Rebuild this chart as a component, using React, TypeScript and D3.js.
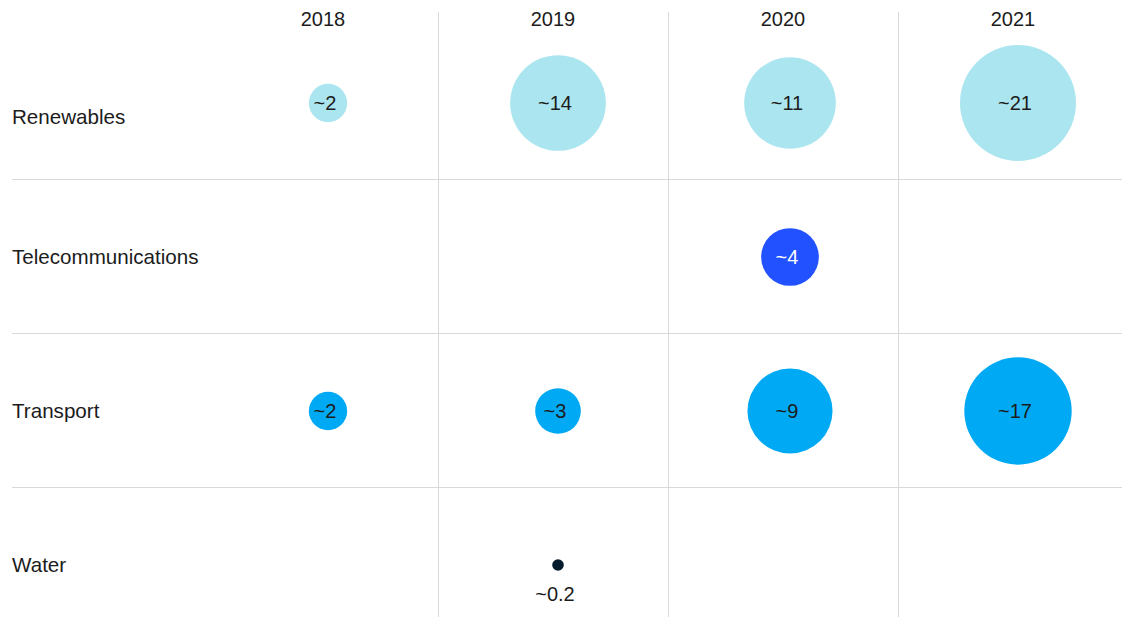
import React from "react";
import * as d3 from "d3";

const years = ["2018", "2019", "2020", "2021"];
const sectors = ["Renewables", "Telecommunications", "Transport", "Water"];

// Displayed labels
const renewablesLabels = ["~2", "~14", "~11", "~21"];
const telecomLabels = [null, null, "~4", null];
const transportLabels = ["~2", "~3", "~9", "~17"];
const waterLabels = [null, "~0.2", null, null];

// Bubble size values
const renewablesSize = [2.3, 14.3, 13.1, 21];
const telecomSize = [null, null, 5.2, null];
const transportSize = [2.3, 3.25, 11.3, 18];
const waterSize = [null, 0.21, null, null];

const sectorColors = ["#ABE6F0", "#2251FF", "#00A9F4", "#051C2C"];
const sectorTextColors = ["#1c1c1c", "#ffffff", "#1c1c1c", "#1c1c1c"];

const W = 1122;
const H = 617;
const FONT = "'Liberation Sans', Arial, sans-serif";

export default function App() {
  const labels = [renewablesLabels, telecomLabels, transportLabels, waterLabels];
  const sizes = [renewablesSize, telecomSize, transportSize, waterSize];

  const x = d3.scaleBand<string>().domain(years).range([208, 1128]).padding(0);
  const y = d3.scaleBand<string>().domain(sectors).range([26, 642]).padding(0);
  const r = d3.scaleSqrt().domain([0, 21]).range([0, 58]);
  const bw = x.bandwidth();
  const bh = y.bandwidth();

  return (
    <div style={{ position: "absolute", left: 0, top: 0 }}>
      <svg width={W} height={H} style={{ display: "block" }} fontFamily={FONT}>
        <rect width={W} height={H} fill="#fff" />
        {/* horizontal separators */}
        {sectors.slice(1).map((s) => (
          <line key={s} x1={12} x2={W} y1={y(s)! - 0.5} y2={y(s)! - 0.5} stroke="#d9d9d9" strokeWidth={1} />
        ))}
        {/* vertical separators */}
        {years.slice(1).map((yr) => (
          <line key={yr} x1={x(yr)! + 0.5} x2={x(yr)! + 0.5} y1={12} y2={H} stroke="#d9d9d9" strokeWidth={1} />
        ))}
        {/* year headers */}
        {years.map((yr) => (
          <text key={yr} x={x(yr)! + bw / 2} y={26} textAnchor="middle" fontSize={20} fill="#1c1c1c">
            {yr}
          </text>
        ))}
        {/* row labels */}
        {sectors.map((s, i) => (
          <text
            key={s}
            x={12}
            y={y(s)! + bh / 2 + (i === 0 ? 14 : 0)}
            dy="0.35em"
            fontSize={20.6}
            fill="#1c1c1c"
          >
            {s}
          </text>
        ))}
        {/* bubbles */}
        {sectors.map((s, i) =>
          years.map((yr, j) => {
            const v = sizes[i][j];
            const lab = labels[i][j];
            if (v == null) return null;
            const cx = x(yr)! + bw / 2 + 5 + (j === 2 ? 2 : 0);
            const cy = y(s)! + bh / 2;
            const rad = r(v);
            const small = rad < 12;
            return (
              <g key={s + yr}>
                <circle cx={cx} cy={cy} r={rad} fill={sectorColors[i]} />
                {lab && (
                  <text
                    x={cx - 3}
                    y={small ? cy + rad + 23 : cy}
                    dy="0.35em"
                    textAnchor="middle"
                    fontSize={20}
                    fill={small ? "#1c1c1c" : sectorTextColors[i]}
                  >
                    {lab}
                  </text>
                )}
              </g>
            );
          })
        )}
      </svg>
    </div>
  );
}
